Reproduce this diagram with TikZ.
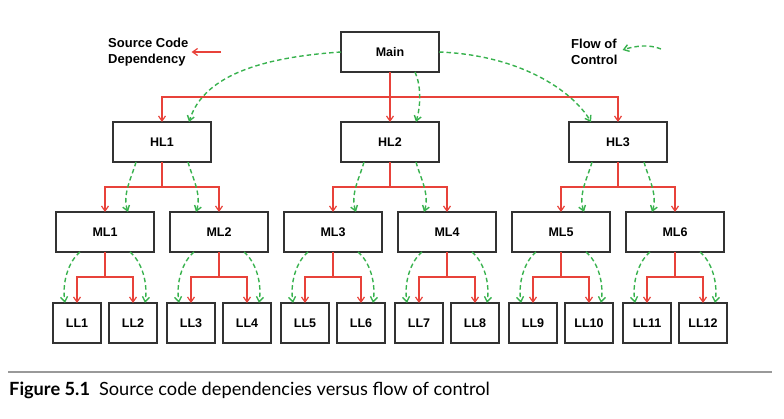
\documentclass[tikz,border=0pt]{standalone}
\usepackage{fontspec}
\setsansfont{Liberation Sans}
\newfontfamily\capfont{Lato}
\usepackage{xcolor}
\usetikzlibrary{arrows.meta, positioning}
\definecolor{depred}{RGB}{232,66,58}
\definecolor{flowgreen}{RGB}{56,178,78}
\definecolor{boxline}{RGB}{50,50,50}
\tikzset{
  hibox/.style={rectangle, draw=boxline, line width=1.4pt, minimum width=98pt,
                minimum height=40pt, inner sep=0pt, outer sep=0pt,
                font=\sffamily\bfseries\fontsize{12.5}{14}\selectfont},
  lobox/.style={hibox, minimum width=48pt},
  dep/.style={-{Straight Barb[length=5pt,width=7pt]}, draw=depred, line width=1.2pt},
  flow/.style={-{Straight Barb[length=5pt,width=7pt]}, draw=flowgreen, line width=1.4pt,
               dash pattern=on 4.5pt off 3pt},
  legend/.style={align=left, inner sep=0pt, font=\sffamily\bfseries\fontsize{13}{16}\selectfont},
}
\begin{document}
\begin{tikzpicture}[x=1pt, y=-1pt]
  \useasboundingbox (0,0) rectangle (784,419);

  % Top
  \node[hibox] (main) at (390,52) {Main};

  % High level
  \node[hibox, below=50pt of main] (hl2) {HL2};
  \node[hibox, left=130pt of hl2] (hl1) {HL1};
  \node[hibox, right=130pt of hl2] (hl3) {HL3};

  % Mid level
  \node[hibox, below=50pt of hl1, xshift=-57pt] (ml1) {ML1};
  \node[hibox, right=16pt of ml1] (ml2) {ML2};
  \node[hibox, right=16pt of ml2] (ml3) {ML3};
  \node[hibox, right=16pt of ml3] (ml4) {ML4};
  \node[hibox, right=16pt of ml4] (ml5) {ML5};
  \node[hibox, right=16pt of ml5] (ml6) {ML6};

  % Low level
  \node[lobox, below=51pt of ml1, xshift=-28pt] (ll1) {LL1};
  \node[lobox, right=8pt of ll1] (ll2) {LL2};
  \node[lobox, below=51pt of ml2, xshift=-28pt] (ll3) {LL3};
  \node[lobox, right=8pt of ll3] (ll4) {LL4};
  \node[lobox, below=51pt of ml3, xshift=-28pt] (ll5) {LL5};
  \node[lobox, right=8pt of ll5] (ll6) {LL6};
  \node[lobox, below=51pt of ml4, xshift=-28pt] (ll7) {LL7};
  \node[lobox, right=8pt of ll7] (ll8) {LL8};
  \node[lobox, below=51pt of ml5, xshift=-28pt] (ll9) {LL9};
  \node[lobox, right=8pt of ll9] (ll10) {LL10};
  \node[lobox, below=51pt of ml6, xshift=-28pt] (ll11) {LL11};
  \node[lobox, right=8pt of ll11] (ll12) {LL12};

  % Legend
  \node[legend, anchor=west] (deplbl) at (108,52) {Source Code\\Dependency};
  \coordinate (deptail) at (221,52);
  \draw[dep] (deptail) -- ([xshift=3pt]deplbl.east);
  \node[legend, anchor=west] (flowlbl) at (571,52) {Flow of\\Control};
  \coordinate (flowtail) at (661,49);
  \draw[flow] (flowtail) .. controls +(-12,-5) and +(12,-4) .. ([xshift=5pt,yshift=2pt]flowlbl.east);

  % Main to HL
  \foreach \c in {hl1, hl2, hl3}
    \draw[dep] (main.south) -- ++(0,25) -| (\c.north);
  \draw[flow] (main.west) .. controls +(-90,6) and +(13,-42) .. ([xshift=27pt]hl1.north);
  \draw[flow] ([xshift=25pt]main.south) .. controls +(6,13) and +(5,-17) .. ([xshift=26pt]hl2.north);
  \draw[flow] (main.east) .. controls +(80,3) and +(-19,-32) .. ([xshift=-27pt]hl3.north);

  % HL to ML
  \foreach \p/\a/\b in {hl1/ml1/ml2, hl2/ml3/ml4, hl3/ml5/ml6} {
    \draw[dep] (\p.south) -- ++(0,25) -| (\a.north);
    \draw[dep] (\p.south) -- ++(0,25) -| (\b.north);
    \draw[flow] ([xshift=-26pt]\p.south) .. controls +(-4,15) and +(-6,-18) .. ([xshift=23pt]\a.north);
    \draw[flow] ([xshift=26pt]\p.south) .. controls +(4,15) and +(6,-18) .. ([xshift=-23pt]\b.north);
  }

  % ML to LL
  \foreach \p/\a/\b in {ml1/ll1/ll2, ml2/ll3/ll4, ml3/ll5/ll6, ml4/ll7/ll8, ml5/ll9/ll10, ml6/ll11/ll12} {
    \draw[dep] (\p.south) -- ++(0,25) -| (\a.north);
    \draw[dep] (\p.south) -- ++(0,25) -| (\b.north);
    \draw[flow] ([xshift=-25pt]\p.south) .. controls +(-12,10) and +(-3,-20) .. ([xshift=-12pt]\a.north);
    \draw[flow] ([xshift=25pt]\p.south) .. controls +(12,10) and +(3,-20) .. ([xshift=12pt]\b.north);
  }

  % Caption
  \draw[black!40, line width=1.5pt] (8,372) -- (772,372);
  \node[anchor=base west, inner sep=0pt] (caption) at (9,395)
    {\capfont\fontsize{18.2}{21}\selectfont\textbf{Figure 5.1}\hspace{9pt}Source code dependencies versus flow of control};
\end{tikzpicture}
\end{document}
